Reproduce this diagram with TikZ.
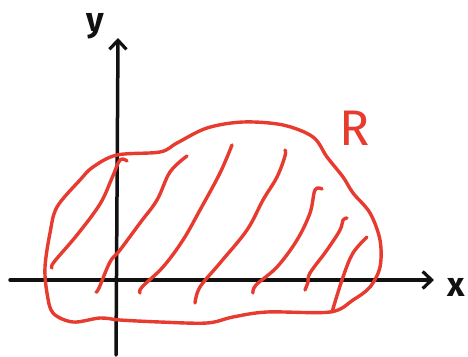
\documentclass[tikz,border=0pt]{standalone}
\usepackage{fontspec}
\newfontfamily\handfont{Fira Sans}
\usetikzlibrary{arrows.meta}
\definecolor{ink}{HTML}{111111}
\definecolor{pen}{HTML}{E63B2E}
\tikzset{
  axis/.style={draw=ink, line width=3.5pt, line cap=round,
    -{Straight Barb[length=9pt,width=17pt,line width=3.2pt]}},
  region/.style={draw=pen, line width=3.4pt, line cap=round, line join=round},
  hatch/.style={draw=pen, line width=3.4pt, line cap=round, line join=round},
  lbl/.style={text=ink, font=\handfont\bfseries\fontsize{34}{34}\selectfont, inner sep=0pt}
}

\begin{document}
\begin{tikzpicture}[x=1pt,y=-1pt]
  \useasboundingbox (0,0) rectangle (468,356);

  % axes
  \coordinate (xs) at (10,280);
  \coordinate (xe) at (434,280);
  \coordinate (ys) at (116,355);
  \coordinate (ye) at (118,38);
  \draw[axis] (xs) -- (xe);
  \draw[axis] (ys) -- (ye);
  \node[lbl] (xl) at (456,287) {x};
  \node[lbl] (yl) at (95,26) {y};

  % region R
  \draw[region] plot[smooth cycle, tension=0.55] coordinates {
    (117,155) (160,152) (177,143) (207,128) (243,122) (283,125)
    (313,137) (327,157) (343,177) (353,193) (370,213) (380,240)
    (380,267) (370,287) (353,300) (330,312) (267,312) (233,317)
    (207,323) (160,322) (120,320) (100,318) (73,322) (53,313)
    (47,293) (45,267) (50,233) (57,207) (80,180) (93,167)};
  \node[lbl, text=pen, font=\handfont\fontsize{50}{50}\selectfont] (rl) at (355,128) {R};

  % hatching
  \draw[hatch] plot[smooth, tension=0.6] coordinates {
    (52,268) (54,262) (77,235) (100,204) (112,178) (120,160) (127,161)};
  \draw[hatch] plot[smooth, tension=0.6] coordinates {
    (96,292) (99,288) (110,262) (120,250) (140,223) (157,200) (170,172) (187,156)};
  \draw[hatch] plot[smooth, tension=0.6] coordinates {
    (140,293) (142,287) (163,267) (183,240) (200,210) (220,173) (232,145)};
  \draw[hatch] plot[smooth, tension=0.6] coordinates {
    (195,303) (200,287) (220,263) (247,230) (263,200) (277,177) (285,156) (285,150)};
  \draw[hatch] plot[smooth, tension=0.6] coordinates {
    (253,293) (256,285) (277,267) (297,240) (310,213) (315,190) (322,189)};
  \draw[hatch] plot[smooth, tension=0.6] coordinates {
    (305,290) (308,282) (310,273) (327,250) (340,230) (343,220) (347,218)};
  \draw[hatch] plot[smooth, tension=0.6] coordinates {
    (332,312) (343,277) (353,253) (367,237)};
\end{tikzpicture}
\end{document}
